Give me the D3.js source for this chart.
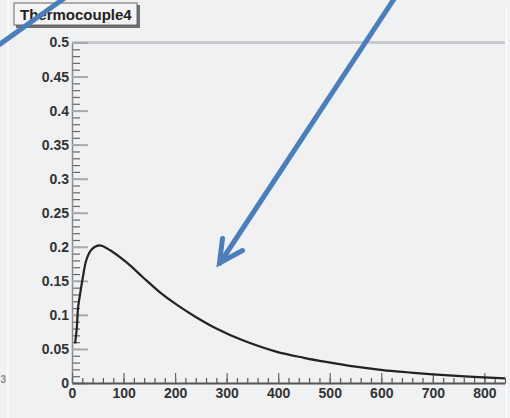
<!DOCTYPE html>
<html>
<head>
<meta charset="utf-8">
<script src="https://cdn.jsdelivr.net/npm/d3@7"></script>
<style>
  html, body { margin: 0; padding: 0; background: #f0f1f3; }
  svg { display: block; }
</style>
</head>
<body>
<svg id="chart" width="510" height="418"></svg>
<script>
// ---- data ----
const title = "Thermocouple4";
const timeValues = [6, 9, 12, 16, 21, 28, 38, 53, 74, 106, 138, 170, 203, 240, 280, 330, 396, 450, 493, 550, 603, 650, 700, 770, 840];
const tempValues = [0.058, 0.078, 0.112, 0.132, 0.155, 0.181, 0.196, 0.202, 0.195, 0.177, 0.155, 0.1335, 0.115, 0.097, 0.080, 0.063, 0.046, 0.037, 0.031, 0.024, 0.019, 0.0158, 0.0128, 0.0095, 0.0068];
const xTickValues = [0, 100, 200, 300, 400, 500, 600, 700, 800];
const xTickLabels = ["0", "100", "200", "300", "400", "500", "600", "700", "800"];
const yTickValues = [0, 0.05, 0.1, 0.15, 0.2, 0.25, 0.3, 0.35, 0.4, 0.45, 0.5];
const yTickLabels = ["0", "0.05", "0.1", "0.15", "0.2", "0.25", "0.3", "0.35", "0.4", "0.45", "0.5"];
const xDomain = [0, 840];
const yDomain = [0, 0.5];

(function () {
// ---- layout ----
const svg = d3.select("#chart");
const mLeft = 72, mRight = 505, mTop = 42.5, mBottom = 383;
const x = d3.scaleLinear().domain(xDomain).range([mLeft, mRight]);
const y = d3.scaleLinear().domain(yDomain).range([mBottom, mTop]);
const font = "'Liberation Sans', Arial, sans-serif";

// background & pad edges
svg.append("rect").attr("width", 510).attr("height", 418).attr("fill", "#f0f1f3");
svg.append("line").attr("x1", 8).attr("x2", 8).attr("y1", 0).attr("y2", 418)
  .attr("stroke", "#ffffff").attr("stroke-width", 1.5);
svg.append("line").attr("x1", 506.5).attr("x2", 506.5).attr("y1", 8).attr("y2", 418)
  .attr("stroke", "#ffffff").attr("stroke-width", 1.5);

// top frame line
svg.append("line").attr("x1", mLeft).attr("x2", mRight).attr("y1", y(0.5)).attr("y2", y(0.5))
  .attr("stroke", "#c9cacd").attr("stroke-width", 3);

// ---- y axis ----
const yMinor = d3.range(0, 0.5001, 0.01);
const gyMinor = svg.append("g").attr("transform", `translate(${mLeft},0)`)
  .call(d3.axisLeft(y).tickValues(yMinor).tickSizeInner(-8).tickSizeOuter(0).tickFormat(""));
gyMinor.select(".domain").remove();
gyMinor.selectAll(".tick line").attr("stroke", "#666").attr("stroke-width", 1.2);

const gy = svg.append("g").attr("transform", `translate(${mLeft},0)`)
  .call(d3.axisLeft(y).tickValues(yTickValues).tickSizeInner(-16).tickSizeOuter(0).tickPadding(3)
    .tickFormat((d, i) => yTickLabels[i]));
gy.select(".domain").attr("stroke", "#8a8a8a").attr("stroke-width", 1.5);
gy.selectAll(".tick line").attr("stroke", "#a9a9a9").attr("stroke-width", 2);
gy.selectAll(".tick text").attr("font-family", font).attr("font-weight", "bold")
  .attr("font-size", 14).attr("fill", "#333");

// ---- x axis ----
const xMinor = d3.range(0, 841, 20);
const gxMinor = svg.append("g").attr("transform", `translate(0,${mBottom})`)
  .call(d3.axisBottom(x).tickValues(xMinor).tickSizeInner(-5).tickSizeOuter(0).tickFormat(""));
gxMinor.select(".domain").remove();
gxMinor.selectAll(".tick line").attr("stroke", "#555").attr("stroke-width", 1.2);

const gx = svg.append("g").attr("transform", `translate(0,${mBottom})`)
  .call(d3.axisBottom(x).tickValues(xTickValues).tickSizeInner(-10).tickSizeOuter(0).tickPadding(5)
    .tickFormat((d, i) => xTickLabels[i]));
gx.select(".domain").attr("stroke", "#555").attr("stroke-width", 2);
gx.selectAll(".tick line").attr("stroke", "#666").attr("stroke-width", 1.2);
gx.selectAll(".tick text").attr("font-family", font).attr("font-weight", "bold")
  .attr("font-size", 14).attr("fill", "#333");

// ---- curve ----
const pts = timeValues.map((t, i) => [t, tempValues[i]]);
const line = d3.line().x(d => x(d[0])).y(d => y(d[1])).curve(d3.curveCatmullRom.alpha(0.5));
svg.append("path").datum(pts).attr("d", line)
  .attr("fill", "none").attr("stroke", "#222").attr("stroke-width", 2.2)
  .attr("stroke-linejoin", "round");

// small label remnant at left edge
svg.append("text").attr("x", 0.5).attr("y", 383).attr("font-family", font)
  .attr("font-weight", "bold").attr("font-size", 10).attr("fill", "#888").text("3");

// ---- title box ----
svg.append("rect").attr("x", 16).attr("y", 5).attr("width", 124).attr("height", 23)
  .attr("fill", "#6e6e6e");
svg.append("rect").attr("x", 14).attr("y", 3).attr("width", 123).attr("height", 22)
  .attr("fill", "#f5f5f5").attr("stroke", "#666").attr("stroke-width", 1);
svg.append("text").attr("x", 20).attr("y", 19.5).attr("font-family", font)
  .attr("font-weight", "bold").attr("font-size", 15).attr("fill", "#222").text(title);

// ---- annotation arrows ----
const blue = "#4a7ebd";
const ann = svg.append("g").attr("stroke", blue).attr("stroke-width", 5)
  .attr("stroke-linecap", "round").attr("fill", "none");
ann.append("line").attr("x1", 396).attr("y1", -4).attr("x2", 220).attr("y2", 263);
ann.append("path").attr("d", "M222.5,238.5 L219.5,263 L242.5,250.5").attr("stroke-linejoin", "miter");
ann.append("line").attr("x1", -4).attr("y1", 47).attr("x2", 66).attr("y2", -3).attr("stroke-linecap", "butt");
})();
</script>
</body>
</html>
